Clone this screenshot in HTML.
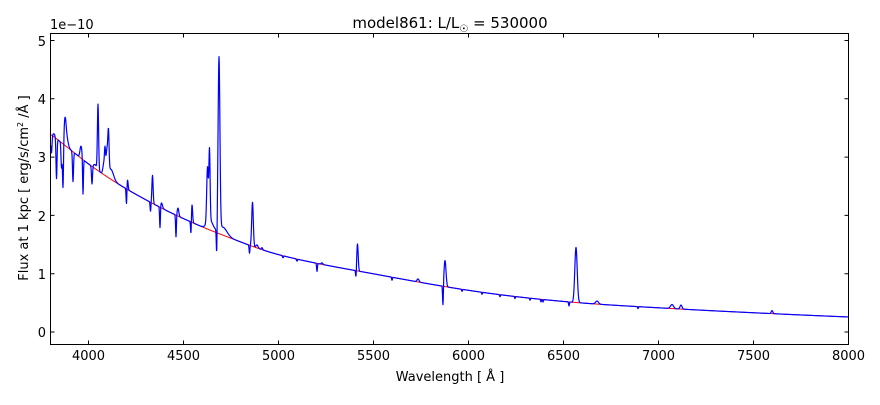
<!DOCTYPE html>
<html><head><meta charset="utf-8"><style>
html,body{margin:0;padding:0;background:#fff;}
svg text{font-family:"DejaVu Sans","Liberation Sans",sans-serif;fill:#000;}
</style></head><body>
<svg id="s" width="880" height="400" xmlns="http://www.w3.org/2000/svg">
<rect width="880" height="400" fill="#fff"/>
<path id="red" fill="none" stroke="#ff0000" stroke-width="1"/>
<path id="blue" fill="none" stroke="#0000ff" stroke-width="1.2" stroke-linejoin="round"/>
<rect x="50.5" y="33.5" width="798" height="311" fill="none" stroke="#000" stroke-width="1"/>
<g id="ticks" stroke="#000" stroke-width="1"></g>
<g font-size="13" text-anchor="middle">
<text x="88.5" y="360">4000</text><text x="183.5" y="360">4500</text><text x="278.5" y="360">5000</text>
<text x="373.5" y="360">5500</text><text x="468.5" y="360">6000</text><text x="563.5" y="360">6500</text>
<text x="658.5" y="360">7000</text><text x="753.5" y="360">7500</text><text x="848.5" y="360">8000</text>
</g>
<g font-size="13" text-anchor="end">
<text x="46" y="337">0</text><text x="46" y="279">1</text><text x="46" y="221">2</text>
<text x="46" y="162">3</text><text x="46" y="104">4</text><text x="46" y="46">5</text>
</g>
<text x="50" y="29" font-size="13">1e−10</text>
<text x="450" y="28" font-size="15" text-anchor="middle">model861: L/L<tspan font-size="10" dy="4">☉</tspan><tspan dy="-4"> = 530000</tspan></text>
<text x="450" y="381" font-size="13" text-anchor="middle">Wavelength [ Å ]</text>
<text transform="translate(28,188) rotate(-90)" font-size="13" text-anchor="middle">Flux at 1 kpc [ erg/s/cm<tspan font-size="8" dy="-5">2</tspan><tspan dy="5"> /Å ]</tspan></text>
</svg>
<script>
var pts=[[30,122],[50,134],[67,147],[90,165],[120,185],[150,202],[180,217],[220,234],[280,255],[380,275],[480,292],[570,302],[680,309],[780,314],[849,317],[900,319]];
function cont(x){for(var i=1;i<pts.length-2;i++){var p1=pts[i],p2=pts[i+1];if(x<=p2[0]){var p0=pts[i-1],p3=pts[i+2];var t=(x-p1[0])/(p2[0]-p1[0]);
var h=p2[0]-p1[0];var m1=(p2[1]-p0[1])/(p2[0]-p0[0])*h,m2=(p3[1]-p1[1])/(p3[0]-p1[0])*h;
var t2=t*t,t3=t2*t;return (2*t3-3*t2+1)*p1[1]+(t3-2*t2+t)*m1+(-2*t3+3*t2)*p2[1]+(t3-t2)*m2;}}return 317;}
var F=[[51.5,18,0.5],[54,-3,1],[56.5,40,0.5],[61.5,25,0.5],[63,47,0.5],[65,-22,1],[66.5,-10,1.5],[73,30,0.5],[81,-12,1],[83,36,0.4],[92,18,0.5],[95,-4,1.5],[98,-66,0.6],[104,-12,1],[105,-18,0.5],[107,-25,1],[108.5,-35,0.6],[111,-10,2.5],[126.5,17,0.4],[127.5,-10,0.6],[150.5,9,0.4],[152.5,-28,0.6],[160,22,0.4],[161.5,-5,1],[176,22,0.4],[178,-8,0.8],[191,15,0.4],[192,-18,0.6],[207.5,-55,0.8],[209.5,-70,0.6],[210,-10,3],[216.7,28,0.4],[219,-172,0.9],[223,-8,4],[249.5,8,0.4],[252.5,-44,0.8],[257,-3,1],[262,-2,0.6],[283,2,0.5],[297,2,0.5],[317,8,0.4],[322,-1.5,0.8],[356,8,0.4],[357.5,-27,0.7],[392,3,0.4],[418,-3,1],[443,22,0.4],[445,-26,1.0],[462,2,0.4],[482,2,0.4],[500,2,0.4],[515,2,0.4],[530,2,0.4],[541,2.5,0.4],[543,2.5,0.4],[569,4,0.4],[576,-55,1.2],[597,-3,1.5],[638,2,0.4],[672,-4,1.5],[681,-4,1],[772,-3,0.8]];
var r="",b="";
for(var x=51;x<=848.5;x+=0.25){var c=cont(x);r+=(x==51?"M":"L")+x.toFixed(2)+","+c.toFixed(2);
var y=c;for(var i=0;i<F.length;i++){var d=(x-F[i][0])/F[i][2];if(Math.abs(d)<6)y+=F[i][1]*Math.exp(-0.5*d*d);}
b+=(x==51?"M":"L")+x.toFixed(2)+","+y.toFixed(2);}
document.getElementById("red").setAttribute("d",r);
document.getElementById("blue").setAttribute("d",b);
var t="";
for(var v=4000;v<=8000;v+=500){var px=50.5+(v-3800)*0.19;t+="M"+px+",344.5V340.5M"+px+",33.5V37.5";}
for(var k=0;k<=5;k++){var py=332-k*58.3;t+="M50.5,"+py+"H54.5M848.5,"+py+"H844.5";}
var p=document.createElementNS("http://www.w3.org/2000/svg","path");p.setAttribute("d",t);p.setAttribute("fill","none");
document.getElementById("ticks").appendChild(p);
</script>
</body></html>
